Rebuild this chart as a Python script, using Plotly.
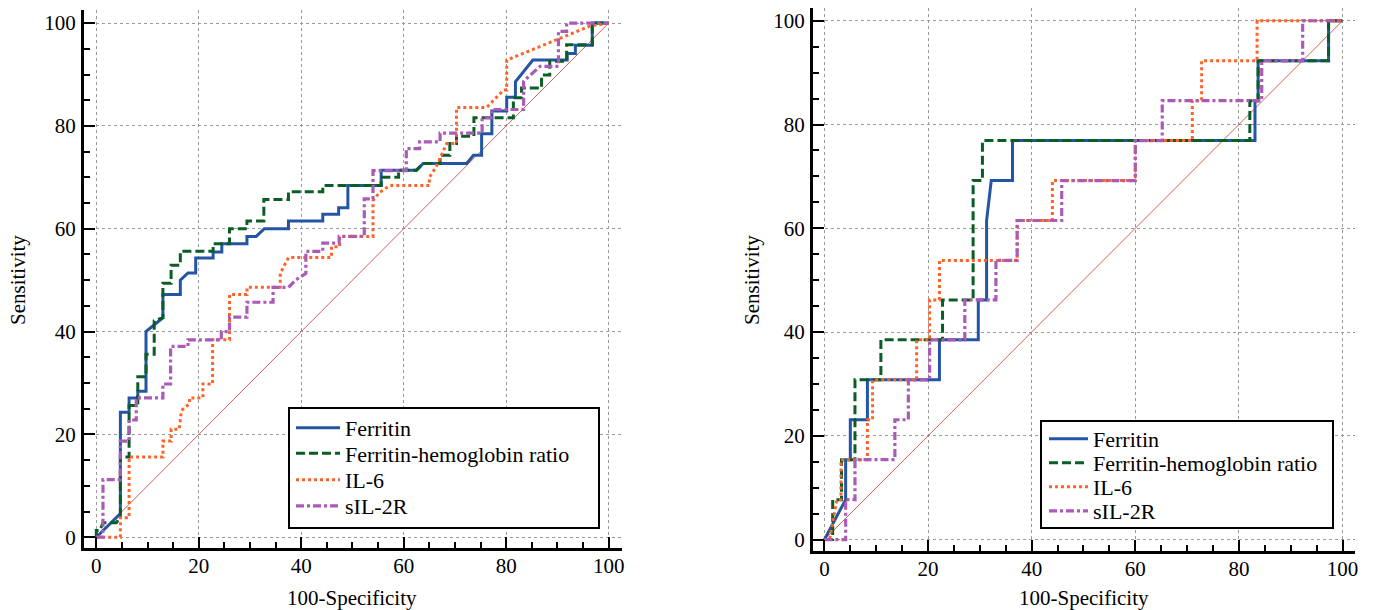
import plotly.graph_objects as go

# ---------------- data ----------------
series_names = ["Ferritin", "Ferritin-hemoglobin ratio", "IL-6", "sIL-2R"]

# Left panel
left_ferritin_x = [0, 4.7, 4.7, 6.4, 6.4, 8.1, 8.1, 9.7, 9.7, 13, 13, 16.4, 16.4, 17.9, 19.4, 19.4, 22.8, 22.8, 24.5, 24.5,
                   29.4, 29.4, 31.2, 32.8, 37.5, 37.5, 44.2, 44.2, 47.3, 47.3, 49.1, 49.1, 55.6, 55.6, 62.5, 63.8, 72.3, 73.6, 75.2, 75.2,
                   77.2, 77.2, 80.1, 80.1, 81.8, 81.8, 85.2, 91.9, 91.9, 93.5, 93.5, 96.8, 96.8, 100]
left_ferritin_y = [0, 4.6, 24.3, 24.3, 27.1, 27.1, 28.4, 28.4, 40, 42.7, 47.2, 47.2, 50, 51.4, 51.4, 54.3, 54.3, 55.5, 55.5, 57.1,
                   57.1, 58.5, 58.5, 60, 60, 61.5, 61.5, 62.8, 62.8, 64.1, 64.1, 68.4, 68.4, 71.4, 71.4, 72.7, 72.7, 74.3, 74.3, 78.5,
                   78.5, 82.9, 82.9, 85.6, 85.6, 88.6, 92.8, 92.8, 94.1, 94.1, 95.7, 95.7, 100, 100]

left_ratio_x = [0, 0, 0.7, 1.3, 3.9, 4.7, 4.7, 6.4, 6.4, 8.1, 8.1, 9.7, 9.7, 11.3, 11.3, 13, 13, 14.6, 14.6, 16.4,
                16.4, 22.8, 22.8, 26, 26, 29.4, 29.4, 32.7, 32.7, 37.5, 37.5, 44.2, 44.2, 55.6, 55.6, 59, 59, 62.5, 63.8, 67.1,
                67.1, 69, 69, 70.3, 70.3, 73.7, 73.7, 81.4, 81.4, 83, 83, 86.9, 86.9, 88.5, 88.5, 91.8, 91.8, 96.8, 96.8, 100]
left_ratio_y = [0, 1.3, 1.3, 2.8, 2.8, 4, 15.6, 15.6, 25.6, 25.6, 31.2, 31.2, 35.6, 35.6, 42.1, 42.7, 49.4, 49.4, 52.9, 52.9,
                55.6, 55.6, 57.1, 57.1, 60, 60, 61.5, 61.5, 65.7, 65.7, 67.2, 67.2, 68.4, 68.4, 70, 70, 71.4, 71.4, 72.7, 72.7,
                74.3, 74.3, 76.6, 76.6, 78, 78, 81.6, 81.6, 85.5, 85.5, 87.4, 87.4, 89.9, 89.9, 92.6, 92.6, 95.8, 95.8, 100, 100]

left_il6_x = [0, 4.7, 4.7, 6.4, 6.4, 13, 13, 14.6, 14.6, 16.2, 16.6, 18.2, 18.2, 20.8, 20.8, 22.7, 22.7, 26, 26, 29.4,
              29.4, 35.9, 35.9, 37.5, 45.9, 45.9, 47.5, 47.5, 54, 54, 55.3, 57.3, 65, 65, 66.3, 68.4, 70.3, 70.3, 76.2, 79.5,
              80.1, 80.1, 96.3, 100]
left_il6_y = [0, 0, 3.8, 3.8, 15.6, 15.6, 18.7, 18.7, 21, 21, 24.6, 26, 27.1, 27.1, 29.8, 29.8, 38.4, 38.4, 47.2, 47.2,
              48.6, 48.6, 51.3, 54.4, 54.4, 56.5, 56.5, 58.5, 58.5, 65.5, 67.1, 68.4, 68.4, 70, 72, 76.6, 76.6, 83.6, 83.6, 87,
              87, 92.8, 99.4, 100]

left_sil2r_x = [0, 1.3, 1.3, 4.7, 4.7, 6.4, 6.4, 7.8, 7.8, 13, 13, 14.5, 14.5, 17.9, 17.9, 24.4, 24.4, 26, 26, 29.4,
                29.4, 34.5, 34.5, 37.5, 39, 40.9, 40.9, 44.2, 44.2, 47.4, 47.4, 52.3, 52.3, 54, 54, 60.5, 60.5, 63.1, 63.1, 67.1,
                67.1, 75.3, 75.3, 77.2, 77.2, 83.4, 83.4, 86.6, 90.2, 90.2, 91.8, 91.8, 100]
left_sil2r_y = [0, 0, 11.2, 11.2, 18.7, 18.7, 22.8, 22.8, 27.1, 27.1, 29.8, 29.8, 37.1, 37.1, 38.4, 38.4, 40, 40, 42.8, 42.8,
                45.7, 45.7, 48.6, 48.6, 50.1, 51.3, 55.6, 55.6, 57.2, 57.2, 58.5, 58.5, 65.8, 65.8, 71.3, 71.3, 75.6, 75.6, 76.9, 76.9,
                78.6, 78.6, 81.6, 81.6, 83.2, 83.2, 88.7, 91.6, 91.6, 98.4, 98.4, 100, 100]

# Right panel
right_ferritin_x = [0, 4.1, 4.1, 5, 5, 8.3, 8.3, 22.2, 22.2, 29.7, 29.7, 31.3, 31.3, 32.2, 36.3, 36.3, 83.1, 83.1, 83.7, 83.7, 97.3, 97.3, 100]
right_ferritin_y = [0, 7.7, 15.4, 15.4, 23.1, 23.1, 30.8, 30.8, 38.5, 38.5, 46.2, 46.2, 61.5, 69.2, 69.2, 76.9, 76.9, 84.6, 84.6, 92.3, 92.3, 100, 100]

right_ratio_x = [0, 1.6, 1.6, 3.3, 3.3, 5.9, 5.9, 10.9, 10.9, 22.8, 22.8, 28.7, 28.7, 30.5, 30.5, 82.1, 82.1, 83.7, 83.7, 97.3, 97.3, 100]
right_ratio_y = [0, 0, 7.7, 7.7, 15.4, 15.4, 30.8, 30.8, 38.5, 38.5, 46.2, 46.2, 69.2, 69.2, 76.9, 76.9, 84.6, 84.6, 92.3, 92.3, 100, 100]

right_il6_x = [0, 1, 2.4, 3.2, 3.2, 8.3, 8.3, 9.3, 9.3, 17.8, 17.8, 20.3, 20.3, 22.2, 22.2, 37.2, 37.2, 44, 44, 60, 60, 71, 71, 72.8, 72.8, 83.5, 83.5, 100]
right_il6_y = [0, 0, 7.7, 7.7, 15.4, 15.4, 23.1, 23.1, 30.8, 30.8, 38.5, 38.5, 46.2, 46.2, 53.8, 53.8, 61.5, 61.5, 69.2, 69.2, 76.9, 76.9, 84.6, 84.6, 92.3, 92.3, 100, 100]

right_sil2r_x = [0, 4.1, 4.1, 5.9, 5.9, 13.6, 13.6, 16.2, 16.2, 20.3, 20.3, 27.1, 27.1, 33.1, 33.1, 37.2, 37.2, 45.8, 45.8, 60, 60, 65.2, 65.2, 84.4, 84.4, 92.3, 92.3, 100]
right_sil2r_y = [0, 0, 7.7, 7.7, 15.4, 15.4, 23.1, 23.1, 30.8, 30.8, 38.5, 38.5, 46.2, 46.2, 53.8, 53.8, 61.5, 61.5, 69.2, 69.2, 76.9, 76.9, 84.6, 84.6, 92.3, 92.3, 100, 100]

diag_x = [0, 100]
diag_y = [0, 100]

axis_ticks = [0, 20, 40, 60, 80, 100]
x_title = "100-Specificity"
y_title = "Sensitivity"

# ---------------- styling ----------------
FONT = "Liberation Serif, serif"
W, H = 1375, 610
styles = [
    dict(color="#2455a3", width=3, dash="solid"),
    dict(color="#0b5d26", width=3, dash="9px,4px"),
    dict(color="#ff6229", width=3, dash="3px,3px"),
    dict(color="#a95bb6", width=3.2, dash="8px,3px,3px,3px"),
]


def px_x(p):
    return p / W


def px_y(p):
    return 1 - p / H


fig = go.Figure()

# (xaxis, yaxis, legend ids, legend row centres, legend left px, itemwidth, data)
panels = [
    ("x", "y", ["legend", "legend2", "legend3", "legend4"], [428, 453.5, 480, 506], 291, 44,
     [(left_ferritin_x, left_ferritin_y), (left_ratio_x, left_ratio_y),
      (left_il6_x, left_il6_y), (left_sil2r_x, left_sil2r_y)]),
    ("x2", "y2", ["legend5", "legend6", "legend7", "legend8"], [439, 463, 487, 511], 1044, 39,
     [(right_ferritin_x, right_ferritin_y), (right_ratio_x, right_ratio_y),
      (right_il6_x, right_il6_y), (right_sil2r_x, right_sil2r_y)]),
]

legend_layout = {}
for xa, ya, lgs, rows, lx, iw, data in panels:
    fig.add_trace(go.Scatter(x=diag_x, y=diag_y, mode="lines", xaxis=xa, yaxis=ya,
                             line=dict(color="#d0605a", width=1), showlegend=False, hoverinfo="skip"))
    for name, (xs, ys), st, lg, ry in zip(series_names, data, styles, lgs, rows):
        fig.add_trace(go.Scatter(x=xs, y=ys, mode="lines", name=name, xaxis=xa, yaxis=ya,
                                 legend=lg, line=st))
        legend_layout[lg] = dict(x=px_x(lx), y=px_y(ry), xanchor="left", yanchor="middle",
                                 bgcolor="rgba(0,0,0,0)", borderwidth=0, itemwidth=iw,
                                 font=dict(family=FONT, size=22, color="black"))


def axis_common(rng, domain, anchor, standoff):
    return dict(
        range=rng, domain=domain, anchor=anchor,
        showline=True, linecolor="black", linewidth=3, mirror=False,
        zeroline=False, showgrid=True, gridcolor="#9a9a9a", gridwidth=1, griddash="dot",
        tickmode="array", tickvals=axis_ticks, ticktext=[str(t) for t in axis_ticks],
        ticks="inside", ticklen=11, tickwidth=2, tickcolor="black",
        minor=dict(ticks="inside", ticklen=6, tickwidth=2, tickcolor="black", dtick=5, tick0=0, showgrid=False),
        tickfont=dict(family=FONT, size=21, color="black"),
        ticklabelstandoff=standoff,
        automargin=False, fixedrange=True,
    )


fig.update_layout(
    width=W, height=H,
    margin=dict(l=0, r=0, t=0, b=0),
    paper_bgcolor="white", plot_bgcolor="white",
    font=dict(family=FONT, size=21, color="black"),
    xaxis=axis_common([-2.4, 102.6], [px_x(84), px_x(622)], "y", -3),
    yaxis=axis_common([-2.1, 102.55], [px_y(548), px_y(10)], "x", 1),
    xaxis2=axis_common([-2.2, 102.4], [px_x(813), px_x(1355)], "y2", -3),
    yaxis2=axis_common([-2.2, 102.4], [px_y(551), px_y(8.3)], "x2", 1),
    showlegend=True,
    **legend_layout,
)

# legend boxes
for x0, y0, x1, y1 in [(289, 408, 599, 528), (1041, 421, 1333, 528)]:
    fig.add_shape(type="rect", xref="paper", yref="paper",
                  x0=px_x(x0), x1=px_x(x1), y0=px_y(y1), y1=px_y(y0),
                  line=dict(color="black", width=2), fillcolor="white", layer="above")

# axis titles
for cx in (352, 1083.5):
    fig.add_annotation(text=x_title, xref="paper", yref="paper", x=px_x(cx), y=px_y(598),
                       xanchor="center", yanchor="middle", showarrow=False,
                       font=dict(family=FONT, size=21, color="black"))
for cx in (18, 752):
    fig.add_annotation(text=y_title, xref="paper", yref="paper", x=px_x(cx), y=px_y(280),
                       xanchor="center", yanchor="middle", showarrow=False, textangle=-90,
                       font=dict(family=FONT, size=21, color="black"))

fig.write_html("out.html", config={"displayModeBar": False},
               post_script="document.body.style.margin='0';document.body.style.overflow='hidden';")
